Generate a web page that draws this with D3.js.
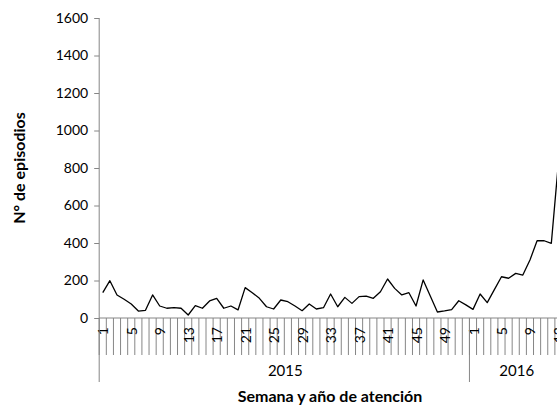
<!DOCTYPE html>
<html>
<head>
<meta charset="utf-8">
<script src="https://cdn.jsdelivr.net/npm/d3@7"></script>
<style>
  html, body { margin: 0; padding: 0; background: #fff; }
  svg { display: block; }
  text { font-family: Lato, "Open Sans", sans-serif; fill: #000; }
</style>
</head>
<body>
<div id="chart"></div>
<script>
// ---- data ----
const years = ["2015", "2016"];
const weeks2015 = d3.range(1, 53);
const weeks2016 = d3.range(1, 14);
const episodes2015 = [135, 199, 123, 100, 75, 37, 41, 123, 64, 52, 55, 52, 16, 66, 52, 91,
  105, 52, 64, 43, 162, 135, 105, 60, 48, 96, 87, 64, 39, 75, 48, 55, 128, 60, 110, 78,
  114, 117, 105, 140, 208, 158, 123, 135, 64, 203, 117, 32, 38, 45, 92, 70];
const episodes2016 = [46, 128, 82, 151, 220, 212, 238, 229, 309, 412, 412, 398, 830];
const weekLabels = [1, 5, 9, 13, 17, 21, 25, 29, 33, 37, 41, 45, 49];
const yTicks = [0, 200, 400, 600, 800, 1000, 1200, 1400, 1600];
const yTitle = "N° de episodios";
const xTitle = "Semana y año de atención";

// ---- build table ----
const rows = [];
weeks2015.forEach((w, i) => rows.push({ year: years[0], week: w, value: episodes2015[i] }));
weeks2016.forEach((w, i) => rows.push({ year: years[1], week: w, value: episodes2016[i] }));
rows.forEach((r, i) => r.idx = i);

const W = 557, H = 407;
const plotLeft = 99.2, band = 7.12, plotTop = 18, plotBottom = 318;

const svg = d3.select("#chart").append("svg").attr("width", W).attr("height", H);

const x = d3.scaleBand().domain(rows.map(r => r.idx)).range([plotLeft, plotLeft + rows.length * band]);
const y = d3.scaleLinear().domain([0, 1600]).range([plotBottom, plotTop]);
const cx = i => x(i) + x.bandwidth() / 2;

const axisColor = "#868686";

// y axis
const yAxis = svg.append("g").attr("transform", `translate(${plotLeft},0)`)
  .call(d3.axisLeft(y).tickValues(yTicks).tickSize(5).tickPadding(6).tickFormat(d3.format("d")));
yAxis.select(".domain").attr("stroke", axisColor).attr("d", `M0,${plotTop}V${plotBottom}`);
yAxis.selectAll(".tick line").attr("stroke", axisColor);
yAxis.selectAll(".tick text").attr("font-size", 14).attr("fill", "#000")
  .style("font-family", "Lato, sans-serif");

// x axis: category boundaries
const g = svg.append("g");
g.append("line").attr("x1", plotLeft).attr("x2", plotLeft + rows.length * band)
  .attr("y1", plotBottom).attr("y2", plotBottom).attr("stroke", axisColor);
g.selectAll("line.tk").data(d3.range(rows.length + 1)).join("line")
  .attr("class", "tk")
  .attr("x1", i => x.range()[0] + i * x.bandwidth())
  .attr("x2", i => x.range()[0] + i * x.bandwidth())
  .attr("y1", plotBottom).attr("y2", 355)
  .attr("stroke", axisColor).attr("stroke-width", 1);

// week labels
const labelled = rows.filter(r => weekLabels.includes(r.week));
g.selectAll("text.wk").data(labelled).join("text")
  .attr("class", "wk")
  .attr("transform", r => `translate(${cx(r.idx)},327) rotate(-90)`)
  .attr("text-anchor", "end")
  .attr("dominant-baseline", "central")
  .attr("font-size", 14)
  .text(r => r.week);

// year groups
const yearGroups = years.map(yr => {
  const rs = rows.filter(r => r.year === yr);
  return { year: yr, x0: x(rs[0].idx), x1: x(rs[rs.length - 1].idx) + x.bandwidth() };
});
const bounds = [yearGroups[0].x0, ...yearGroups.map(d => d.x1)];
g.selectAll("line.yr").data(bounds).join("line")
  .attr("class", "yr")
  .attr("x1", d => d).attr("x2", d => d)
  .attr("y1", plotBottom).attr("y2", 382)
  .attr("stroke", axisColor);
g.selectAll("text.yr").data(yearGroups).join("text")
  .attr("class", "yr")
  .attr("x", d => (d.x0 + d.x1) / 2 + 1)
  .attr("y", 376)
  .attr("text-anchor", "middle")
  .attr("font-size", 15)
  .text(d => d.year);

// line
svg.append("path").datum(rows)
  .attr("fill", "none").attr("stroke", "#000").attr("stroke-width", 1.3)
  .attr("stroke-linejoin", "round")
  .attr("d", d3.line().x(r => cx(r.idx)).y(r => y(r.value)));

// titles
svg.append("text")
  .attr("transform", `translate(25,${(plotTop + plotBottom) / 2}) rotate(-90)`)
  .attr("text-anchor", "middle")
  .attr("font-size", 16).attr("font-weight", "bold")
  .text(yTitle);
svg.append("text")
  .attr("x", 330).attr("y", 402)
  .attr("text-anchor", "middle")
  .attr("font-size", 16).attr("font-weight", "bold")
  .text(xTitle);
</script>
</body>
</html>
